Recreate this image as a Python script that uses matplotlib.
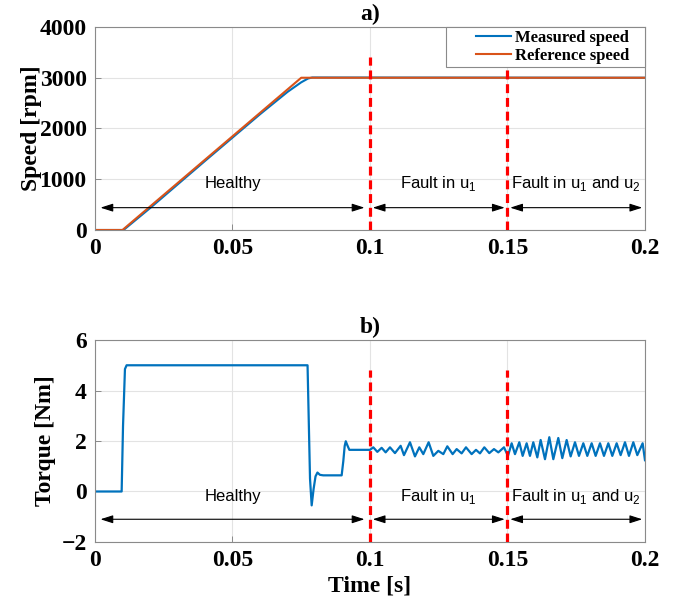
import numpy as np
import matplotlib.pyplot as plt
from matplotlib.patches import ArrowStyle
from matplotlib.legend_handler import HandlerLine2D

plt.rcParams['mathtext.fontset'] = 'custom'
plt.rcParams['mathtext.rm'] = 'Liberation Sans'

# speed traces [s], [rpm]
t_ref = [0.0, 0.0100, 0.0750, 0.2000]
w_ref = [0, 0, 3000, 3000]
t_meas = [0.0, 0.0104, 0.0200, 0.0400, 0.0600, 0.0700, 0.0750, 0.0775, 0.0790, 0.2000]
w_meas = [0, 0, 430, 1360, 2280, 2720, 2910, 2985, 3005, 3000]

# electromagnetic torque [s], [Nm]
t_trq = [0.0, 0.0097, 0.0102, 0.0109, 0.0115, 0.0773, 0.0777, 0.0782, 0.0788,
         0.0795, 0.0802, 0.0809, 0.0818, 0.0830, 0.0897, 0.0903, 0.0908, 0.0912,
         0.0917, 0.0925, 0.0940, 0.1000,
         0.10121, 0.10267, 0.10424, 0.10570, 0.10727, 0.10909, 0.11115, 0.11236,
         0.11455, 0.11636, 0.11794, 0.11939, 0.12133, 0.12303, 0.12485, 0.12667,
         0.12812, 0.13006, 0.13152, 0.13333, 0.13491, 0.13697, 0.13855, 0.14000,
         0.14158, 0.14339, 0.14509, 0.14667, 0.14873, 0.15018,
         0.15152, 0.15273, 0.15430, 0.15552, 0.15697, 0.15818, 0.15939, 0.16085,
         0.16206, 0.16364, 0.16521, 0.16667, 0.16848, 0.16994, 0.17152, 0.17297,
         0.17455, 0.17600, 0.17758, 0.17903, 0.18061, 0.18206, 0.18364, 0.18509,
         0.18667, 0.18812, 0.18970, 0.19115, 0.19273, 0.19418, 0.19576, 0.19721,
         0.19915, 0.2000]
T_trq = [0.0, 0.0, 2.6, 4.85, 5.0, 5.0, 3.0, 0.5, -0.55,
         0.1, 0.6, 0.75, 0.66, 0.64, 0.64, 1.2, 1.8, 1.99,
         1.85, 1.65, 1.65, 1.65,
         1.75, 1.57, 1.73, 1.55, 1.75, 1.52, 1.81, 1.44,
         1.95, 1.39, 1.75, 1.48, 1.95, 1.41, 1.61, 1.48,
         1.79, 1.48, 1.68, 1.51, 1.75, 1.48, 1.65, 1.51,
         1.75, 1.52, 1.68, 1.55, 1.75, 1.41,
         1.91, 1.48, 1.95, 1.41, 1.91, 1.41, 1.95, 1.35,
         2.04, 1.28, 2.15, 1.28, 2.12, 1.32, 2.04, 1.39,
         1.95, 1.41, 1.91, 1.41, 1.91, 1.41, 1.91, 1.41,
         1.91, 1.41, 1.91, 1.44, 1.95, 1.41, 1.95, 1.44,
         1.91, 1.24]

faults = [0.1, 0.15]
regions = [(0.002, 0.098, 'Healthy'),
           (0.101, 0.149, r'Fault in u$_{\mathregular{1}}$'),
           (0.151, 0.199, r'Fault in u$_{\mathregular{1}}$ and u$_{\mathregular{2}}$')]

blue = '#0072BD'
orange = '#D95319'
tnr = dict(family='Liberation Serif', weight='bold')


class IndentedLine(HandlerLine2D):
    # legend line drawn only over the right part of the handle box
    def get_xdata(self, legend, xdescent, ydescent, width, height, fontsize):
        x0 = -xdescent + 0.44 * width
        x1 = -xdescent + width
        return np.array([x0, x1]), np.array([(x0 + x1) / 2])


fig = plt.figure(figsize=(6.76, 6.12), dpi=100)
ax1 = fig.add_axes([0.1405, 0.6242, 0.8136, 0.3317])
ax2 = fig.add_axes([0.1405, 0.1144, 0.8136, 0.3300])

ax1.plot(t_meas, w_meas, color=blue, lw=1.5, label='Measured speed')
ax1.plot(t_ref, w_ref, color=orange, lw=1.5, label='Reference speed')
ax2.plot(t_trq, T_trq, color=blue, lw=1.6, solid_joinstyle='round')

arrow = ArrowStyle('<|-|>', head_length=0.75, head_width=0.24)

def decorate(ax, ylim, yticks, ylabel, title, arrow_y, text_y, labelpad):
    ax.set_xlim(0, 0.2)
    ax.set_ylim(*ylim)
    ax.set_xticks([0, 0.05, 0.1, 0.15, 0.2])
    ax.set_xticklabels(['0', '0.05', '0.1', '0.15', '0.2'])
    ax.set_yticks(yticks)
    ax.grid(True, color='#e3e3e3', lw=0.8)
    ax.set_axisbelow(True)
    for s in ax.spines.values():
        s.set_color('#8a8a8a')
        s.set_linewidth(0.8)
    ax.tick_params(direction='in', length=4, width=0.7, color='#8a8a8a',
                   labelsize=17, pad=6, top=False, right=False)
    for lab in ax.get_xticklabels() + ax.get_yticklabels():
        lab.set_fontfamily('Liberation Serif')
        lab.set_fontweight('bold')
    ax.set_ylabel(ylabel, fontsize=17, labelpad=labelpad, **tnr)
    ax.set_title(title, fontsize=17, pad=5, **tnr)
    for xf in faults:
        ax.axvline(xf, ymax=0.85, color='#ff0000', lw=2.3,
                   linestyle=(0, (2.8, 1.5)), zorder=3)
    for x0, x1, txt in regions:
        ax.annotate('', xy=(x1, arrow_y), xytext=(x0, arrow_y),
                    arrowprops=dict(arrowstyle=arrow, color='black', lw=0.8,
                                    shrinkA=0, shrinkB=0))
        ax.text((x0 + x1) / 2, text_y, txt, ha='center', va='center',
                fontsize=12, family='Liberation Sans')

decorate(ax1, (0, 4000), [0, 1000, 2000, 3000, 4000], 'Speed [rpm]', 'a)', 440, 910, -2)
decorate(ax2, (-2, 6), [-2, 0, 2, 4, 6], 'Torque [Nm]', 'b)', -1.1, -0.2, 4)
ax2.set_xlabel('Time [s]', fontsize=17, labelpad=3, **tnr)

leg = ax1.legend(loc='upper left', bbox_to_anchor=(0.638, 0, 0.362, 1.0),
                 mode='expand', borderaxespad=0, fancybox=False, framealpha=1,
                 prop=dict(family='Liberation Serif', weight='bold', size=12),
                 handlelength=3.7, handletextpad=0.25, borderpad=0.2,
                 labelspacing=0.1, handler_map={plt.Line2D: IndentedLine()})
leg.set_zorder(10)
leg.get_frame().set_edgecolor('#8a8a8a')
leg.get_frame().set_linewidth(0.8)

fig.savefig('out.png', dpi=100)
